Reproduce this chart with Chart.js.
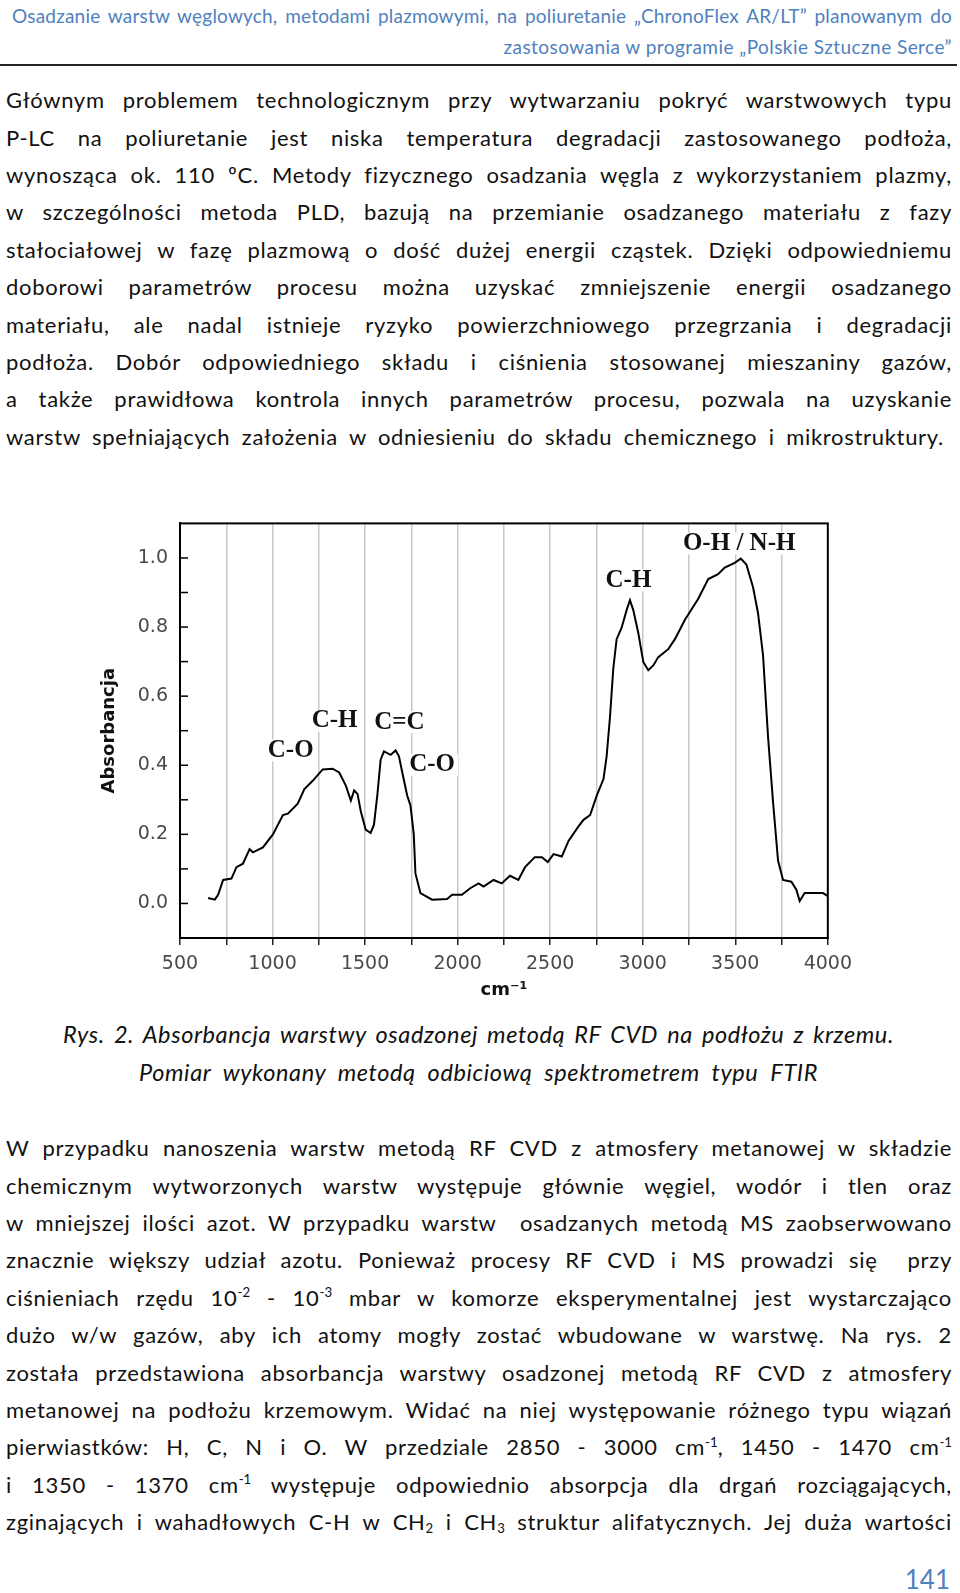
<!DOCTYPE html>
<html lang="pl">
<head>
<meta charset="utf-8">
<script src="https://cdn.jsdelivr.net/npm/chart.js@4.4.0/dist/chart.umd.min.js"></script>
<style>
body { margin:0; width:960px; height:1593px; background:#fff; position:relative; overflow:hidden; font-family: Lato, "Open Sans", sans-serif; color:#111; }
.hdr { position:absolute; color:#4f81bd; font-size:19px; letter-spacing:0.2px; line-height:30.6px; height:30.6px; }
.rule { position:absolute; left:0; top:64px; width:957px; height:2px; background:#222; }
.para { position:absolute; left:6px; width:946px; font-size:22px; letter-spacing:0.7px; }
.para div { height:37.4px; line-height:37.4px; text-align:justify; text-align-last:justify; }
.cap { position:absolute; font-size:23.5px; letter-spacing:0.6px; font-style:italic; line-height:37.4px; height:37.4px; text-align:justify; text-align-last:justify; }
sup { font-size:0.6em; letter-spacing:0; vertical-align:baseline; position:relative; top:-0.65em; }
sub { font-size:0.6em; letter-spacing:0; vertical-align:baseline; position:relative; top:0.25em; }
#chartBox { position:absolute; left:80px; top:500px; width:780px; height:505px; }
.pnum { position:absolute; right:10px; top:1564px; font-size:26px; line-height:1.2; color:#4f81bd; }
</style>
</head>
<body>
<div class="hdr" style="left:12px; width:940px; top:1px; text-align:justify; text-align-last:justify;">Osadzanie warstw węglowych, metodami plazmowymi, na poliuretanie „ChronoFlex AR/LT” planowanym do</div>
<div class="hdr" style="right:8px; top:31.6px; white-space:nowrap; text-align:right; letter-spacing:0.45px;">zastosowania w programie „Polskie Sztuczne Serce”</div>
<div class="rule"></div>

<div class="para" style="top:81.3px;">
<div>Głównym problemem technologicznym przy wytwarzaniu pokryć warstwowych typu</div>
<div>P-LC na poliuretanie jest niska temperatura degradacji zastosowanego podłoża,</div>
<div>wynosząca ok. 110 ºC. Metody fizycznego osadzania węgla z wykorzystaniem plazmy,</div>
<div>w szczególności metoda PLD, bazują na przemianie osadzanego materiału z fazy</div>
<div>stałociałowej w fazę plazmową o dość dużej energii cząstek. Dzięki odpowiedniemu</div>
<div>doborowi parametrów procesu można uzyskać zmniejszenie energii osadzanego</div>
<div>materiału, ale nadal istnieje ryzyko powierzchniowego przegrzania i degradacji</div>
<div>podłoża. Dobór odpowiedniego składu i ciśnienia stosowanej mieszaniny gazów,</div>
<div>a także prawidłowa kontrola innych parametrów procesu, pozwala na uzyskanie</div>
<div style="width:938px;">warstw spełniających założenia w odniesieniu do składu chemicznego i mikrostruktury.</div>
</div>

<div id="chartBox"><canvas id="ftirChart" width="780" height="505"></canvas></div>

<div class="cap" style="left:63px; width:831px; top:1016.3px;">Rys. 2. Absorbancja warstwy osadzonej metodą RF CVD na podłożu z krzemu.</div>
<div class="cap" style="left:139px; width:679px; top:1053.7px;">Pomiar wykonany metodą odbiciową spektrometrem typu FTIR</div>

<div class="para" style="top:1129.2px;">
<div>W przypadku nanoszenia warstw metodą RF CVD z atmosfery metanowej w składzie</div>
<div>chemicznym wytworzonych warstw występuje głównie węgiel, wodór i tlen oraz</div>
<div>w mniejszej ilości azot. W przypadku warstw &nbsp;osadzanych metodą MS zaobserwowano</div>
<div>znacznie większy udział azotu. Ponieważ procesy RF CVD i MS prowadzi się &nbsp;przy</div>
<div>ciśnieniach rzędu 10<sup>-2</sup> - 10<sup>-3</sup> mbar w komorze eksperymentalnej jest wystarczająco</div>
<div>dużo w/w gazów, aby ich atomy mogły zostać wbudowane w warstwę. Na rys. 2</div>
<div>została przedstawiona absorbancja warstwy osadzonej metodą RF CVD z atmosfery</div>
<div>metanowej na podłożu krzemowym. Widać na niej występowanie różnego typu wiązań</div>
<div>pierwiastków: H, C, N i O. W przedziale 2850 - 3000 cm<sup>-1</sup>, 1450 - 1470 cm<sup>-1</sup></div>
<div>i 1350 - 1370 cm<sup>-1</sup> występuje odpowiednio absorpcja dla drgań rozciągających,</div>
<div>zginających i wahadłowych C-H w CH<sub>2</sub> i CH<sub>3</sub> struktur alifatycznych. Jej duża wartości</div>
</div>

<div class="pnum">141</div>

<script>
// widmo FTIR
var wavenumber = [652, 688, 706, 733, 778, 805, 840, 876, 894, 948, 1002, 1056, 1083, 1136, 1172, 1217, 1271, 1324, 1360, 1396,
  1423, 1441, 1459, 1477, 1503, 1530, 1548, 1566, 1584, 1602, 1638, 1665, 1683, 1701, 1727, 1745, 1763, 1772, 1799, 1862,
  1943, 1970, 2023, 2068, 2113, 2140, 2194, 2238, 2283, 2328, 2364, 2417, 2455, 2487, 2518, 2563, 2599, 2653, 2680, 2716,
  2752, 2788, 2805, 2823, 2841, 2859, 2886, 2913, 2931, 2949, 2976, 3003, 3030, 3057, 3084, 3138, 3174, 3228, 3300, 3354,
  3407, 3443, 3497, 3530, 3560, 3596, 3623, 3650, 3677, 3704, 3731, 3758, 3803, 3830, 3848, 3875, 3974, 4000];
var absorbance = [0.016, 0.011, 0.025, 0.068, 0.072, 0.105, 0.115, 0.157, 0.148, 0.162, 0.20, 0.256, 0.26, 0.289, 0.331, 0.355, 0.388, 0.39, 0.379, 0.341,
  0.298, 0.327, 0.317, 0.266, 0.214, 0.204, 0.228, 0.313, 0.416, 0.44, 0.43, 0.443, 0.426, 0.379, 0.313, 0.284, 0.20, 0.087, 0.03, 0.011,
  0.013, 0.025, 0.025, 0.044, 0.058, 0.049, 0.068, 0.058, 0.08, 0.068, 0.105, 0.134, 0.134, 0.12, 0.143, 0.136, 0.181, 0.223, 0.242, 0.256,
  0.313, 0.36, 0.426, 0.539, 0.68, 0.765, 0.798, 0.849, 0.878, 0.849, 0.783, 0.699, 0.675, 0.689, 0.713, 0.736, 0.765, 0.821, 0.882, 0.939,
  0.953, 0.972, 0.986, 0.998, 0.981, 0.915, 0.84, 0.718, 0.482, 0.294, 0.124, 0.068, 0.063, 0.04, 0.007, 0.03, 0.03, 0.021];

var xTickLabels = [500, 1000, 1500, 2000, 2500, 3000, 3500, 4000];
var yTickLabels = ["0.0", "0.2", "0.4", "0.6", "0.8", "1.0"];

// opisy pasm
var peakLabels = ["C-O", "C-H", "C=C", "C-O", "C-H", "O-H / N-H"];
var peakX = [1098, 1335, 1685, 1862, 2923, 3521];
var peakY = [0.443, 0.528, 0.525, 0.401, 0.935, 1.042];

var peakText = {
  id: "peakText",
  beforeDatasetsDraw: function (chart) {
    var c = chart.ctx;
    var xs = chart.scales.x, ys = chart.scales.y;
    c.save();
    c.font = "bold 25px 'Liberation Serif'";
    c.textAlign = "center";
    c.textBaseline = "middle";
    for (var i = 0; i < peakLabels.length; i++) {
      var px = xs.getPixelForValue(peakX[i]);
      var py = ys.getPixelForValue(peakY[i]);
      var w = c.measureText(peakLabels[i]).width;
      c.fillStyle = "#fff";
      c.fillRect(px - w / 2 - 3, py - 11, w + 6, 22);
      c.fillStyle = "#111";
      c.fillText(peakLabels[i], px, py);
    }
    c.restore();
  },
  afterDatasetsDraw: function (chart) {
    var c = chart.ctx, a = chart.chartArea, ys = chart.scales.y;
    c.save();
    c.strokeStyle = "#000";
    c.lineWidth = 2;
    c.strokeRect(a.left, a.top, a.right - a.left, a.bottom - a.top);
    // krotkie znaczniki osi Y do wewnatrz
    c.lineWidth = 1.5;
    ys.ticks.forEach(function (t) {
      if (t.value < -0.001 || t.value > 1.001) return;
      var y = ys.getPixelForValue(t.value);
      c.beginPath();
      c.moveTo(a.left, y);
      c.lineTo(a.left + 8, y);
      c.stroke();
    });
    c.restore();
  }
};

var ctxF = document.getElementById("ftirChart").getContext("2d");
var ftirChart = new Chart(ctxF, {
  type: "line",
  data: {
    datasets: [
      {
        data: wavenumber.map(function (w, i) { return { x: w, y: absorbance[i] }; }),
        borderColor: "#000",
        borderWidth: 2,
        pointRadius: 0,
        tension: 0,
        fill: false,
      },
    ],
  },
  options: {
    responsive: false,
    animation: false,
    devicePixelRatio: 1,
    layout: { padding: { top: 16, right: 30, left: 0, bottom: 0 } },
    plugins: { legend: { display: false }, tooltip: { enabled: false } },
    scales: {
      x: {
        type: "linear",
        min: 500,
        max: 4000,
        afterFit: function (scale) { scale.height = 67; },
        border: { display: true, color: "#000", width: 2 },
        grid: {
          color: function (ctx) {
            if (!ctx.tick) return "#c8c8c8";
            return (ctx.tick.value === 500 || ctx.tick.value === 4000) ? "rgba(0,0,0,0)" : "#c8c8c8";
          },
          lineWidth: 1.5,
          tickColor: "#222",
          tickWidth: 1.5,
          tickLength: 7,
        },
        ticks: {
          stepSize: 250,
          autoSkip: false,
          maxRotation: 0,
          padding: 8,
          color: "#4a4a4a",
          font: { family: "DejaVu Sans", size: 19 },
          callback: function (v) { return xTickLabels.indexOf(v) >= 0 ? String(v) : ""; },
        },
        title: {
          display: true,
          text: "cm⁻¹",
          color: "#111",
          font: { family: "DejaVu Sans", size: 18, weight: "bold" },
          padding: 4,
        },
      },
      y: {
        min: -0.1,
        max: 1.1,
        afterFit: function (scale) { scale.width = 100; },
        border: { display: true, color: "#000", width: 2 },
        grid: { display: false, drawTicks: false },
        ticks: {
          stepSize: 0.1,
          padding: 12,
          color: "#4a4a4a",
          font: { family: "DejaVu Sans", size: 19 },
          callback: function (v) {
            var s = (Math.round(v * 10) / 10).toFixed(1);
            return yTickLabels.indexOf(s) >= 0 ? s : "";
          },
        },
        title: {
          display: true,
          text: "Absorbancja",
          color: "#111",
          font: { family: "DejaVu Sans", size: 18, weight: "bold" },
          padding: 19,
        },
      },
    },
  },
  plugins: [peakText],
});
</script>
</body>
</html>
